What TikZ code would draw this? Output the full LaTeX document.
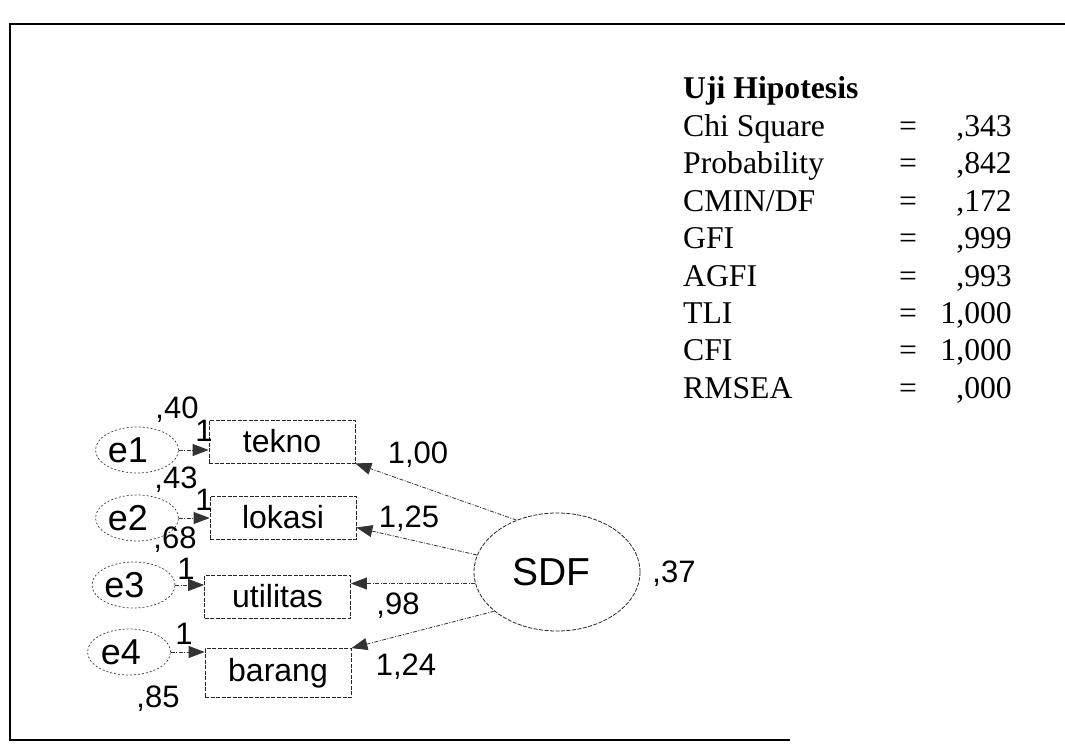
\documentclass[tikz,border=0pt]{standalone}
\usepackage{fontspec}
\setmainfont{Liberation Sans}
\newfontfamily\tms{Liberation Serif}
\usetikzlibrary{arrows.meta,shapes.geometric}
\begin{document}
\begin{tikzpicture}[x=1pt,y=-1pt,
  lbl/.style={font=\fontsize{31}{31}\selectfont, inner sep=0pt, anchor=base},
  tab/.style={font=\tms\fontsize{31.7}{31.7}\selectfont, inner sep=0pt},
  obs/.style={draw=black!85, line width=0.8pt, dash pattern=on 4pt off 1.5pt,
    minimum width=146pt, minimum height=43pt, inner sep=0pt,
    font=\fontsize{32}{32}\selectfont},
  err/.style={ellipse, draw=black!75, line width=0.7pt, dash pattern=on 2pt off 2pt,
    minimum width=83pt, minimum height=46pt, inner sep=0pt,
    font=\fontsize{36}{36}\selectfont},
  lat/.style={ellipse, draw=black!85, line width=0.8pt, dash pattern=on 4pt off 1.5pt,
    minimum width=166pt, minimum height=118pt, inner sep=0pt,
    font=\fontsize{39}{39}\selectfont},
  conn/.style={draw=black!80, line width=0.8pt, dash pattern=on 4pt off 1.5pt on 1pt off 1.5pt,
    -{Triangle[length=16pt,width=12pt]}},
  frame/.style={draw=black, line width=2.4pt}
]
\useasboundingbox (0,0) rectangle (1065,752);

% frame
\draw[frame] (10,24) -- (1065,24);
\draw[frame, line width=1.8pt] (10,23) -- (10,741);
\draw[frame] (9,740) -- (790,740);

% table
\node[tab, anchor=base west, font=\tms\bfseries\fontsize{31.7}{31.7}\selectfont] (title) at (683,99) {Uji Hipotesis};
\node[tab, anchor=base west] (chi-l) at (683,136.4) {Chi Square};
\node[tab, anchor=base] (chi-e) at (908,136.4) {=};
\node[tab, anchor=base east] (chi-v) at (1012,136.4) {,343};
\node[tab, anchor=base west] (prob-l) at (683,173.8) {Probability};
\node[tab, anchor=base] (prob-e) at (908,173.8) {=};
\node[tab, anchor=base east] (prob-v) at (1012,173.8) {,842};
\node[tab, anchor=base west] (cmin-l) at (683,211.2) {CMIN/DF};
\node[tab, anchor=base] (cmin-e) at (908,211.2) {=};
\node[tab, anchor=base east] (cmin-v) at (1012,211.2) {,172};
\node[tab, anchor=base west] (gfi-l) at (683,248.6) {GFI};
\node[tab, anchor=base] (gfi-e) at (908,248.6) {=};
\node[tab, anchor=base east] (gfi-v) at (1012,248.6) {,999};
\node[tab, anchor=base west] (agfi-l) at (683,286) {AGFI};
\node[tab, anchor=base] (agfi-e) at (908,286) {=};
\node[tab, anchor=base east] (agfi-v) at (1012,286) {,993};
\node[tab, anchor=base west] (tli-l) at (683,323.4) {TLI};
\node[tab, anchor=base] (tli-e) at (908,323.4) {=};
\node[tab, anchor=base east] (tli-v) at (1012,323.4) {1,000};
\node[tab, anchor=base west] (cfi-l) at (683,360.8) {CFI};
\node[tab, anchor=base] (cfi-e) at (908,360.8) {=};
\node[tab, anchor=base east] (cfi-v) at (1012,360.8) {1,000};
\node[tab, anchor=base west] (rmsea-l) at (683,398.2) {RMSEA};
\node[tab, anchor=base] (rmsea-e) at (908,398.2) {=};
\node[tab, anchor=base east] (rmsea-v) at (1012,398.2) {,000};

% observed variables
\node[obs] (tekno) at (282,441.5) {tekno};
\node[obs] (lokasi) at (283,517.5) {lokasi};
\node[obs] (utilitas) at (277.5,596.5) {utilitas};
\node[obs, minimum height=49pt] (barang) at (278,673) {barang};

% error terms
\node[err] (e1) at (137,450) {e1\hspace*{18pt}};
\node[err] (e2) at (137,518) {e2\hspace*{18pt}};
\node[err] (e3) at (133.5,585) {e3\hspace*{18pt}};
\node[err] (e4) at (129,652) {e4\hspace*{16pt}};

% latent
\node[lat] (sdf) at (557,572) {SDF\hspace*{12pt}};

% error arrows
\draw[conn] (e1) -- (e1.east -| tekno.west);
\draw[conn] (e2) -- (e2.east -| lokasi.west);
\draw[conn] (e3) -- (e3.east -| utilitas.west);
\draw[conn] (e4) -- (e4.east -| barang.west);

% loadings
\draw[conn] (sdf.128) -- (tekno.south east);
\draw[conn] (sdf.168) -- ([yshift=-10pt]lokasi.east);
\draw[conn] (sdf.188) -- (sdf.188 -| utilitas.east);
\draw[conn] (sdf.212) -- (barang.north east);

% labels
\node[lbl] (v1) at (177,418) {,40};
\node[lbl] (v2) at (176,488) {,43};
\node[lbl] (v3) at (175,548) {,68};
\node[lbl] (v4) at (158,707) {,85};
\node[lbl] (w1) at (204,441) {1};
\node[lbl] (w2) at (204,510) {1};
\node[lbl] (w3) at (186,579) {1};
\node[lbl] (w4) at (184,644) {1};
\node[lbl] (l1) at (418,463) {1,00};
\node[lbl] (l2) at (409,527) {1,25};
\node[lbl] (l3) at (398,614) {,98};
\node[lbl] (l4) at (406,675) {1,24};
\node[lbl] (vs) at (674,582) {,37};
\end{tikzpicture}
\end{document}
